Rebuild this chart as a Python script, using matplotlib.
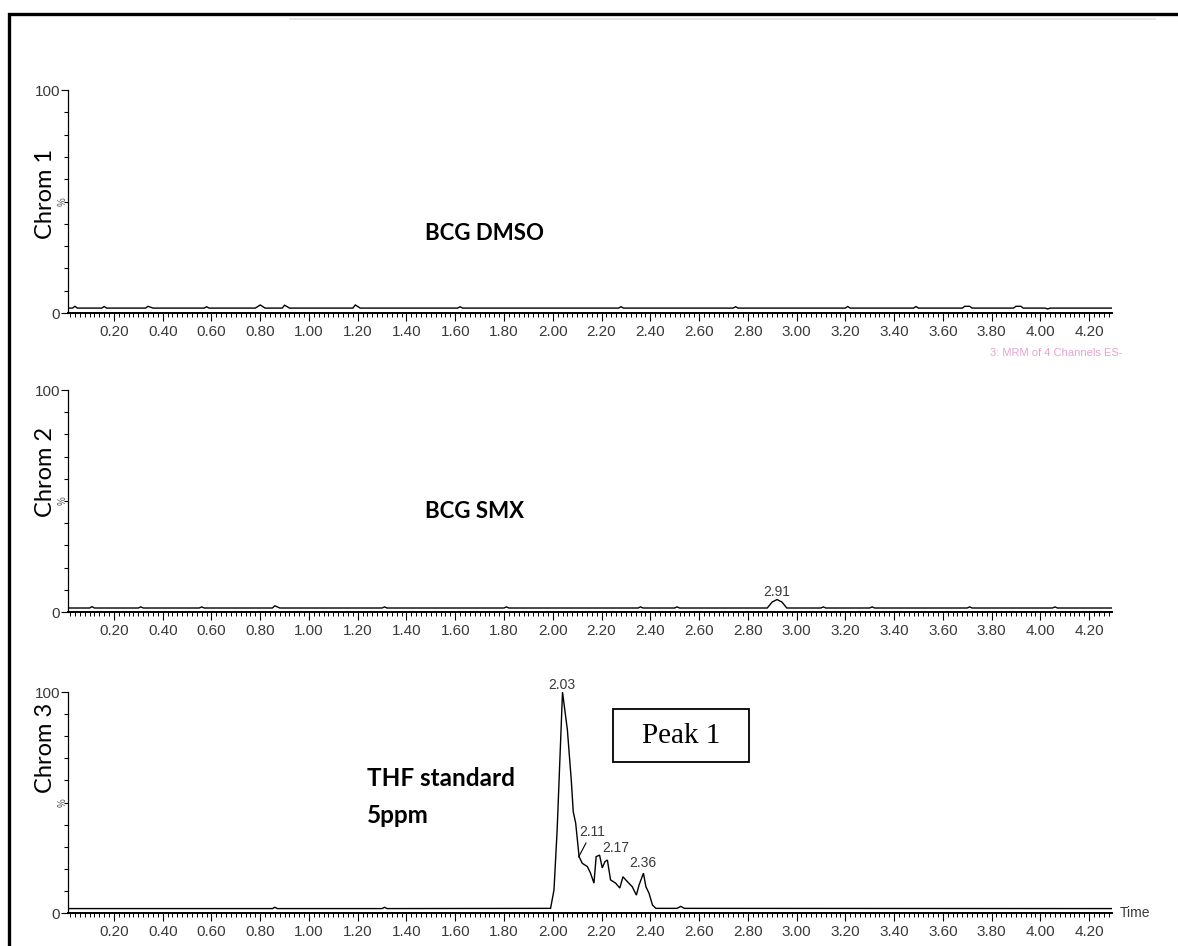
import matplotlib
matplotlib.use("Agg")
import matplotlib.pyplot as plt
from matplotlib.patches import Rectangle
from matplotlib.lines import Line2D
from matplotlib.ticker import MultipleLocator, FixedLocator

W, H = 1178, 946

# ---------------- data ----------------
panel_labels = ["Chrom 1", "Chrom 2", "Chrom 3"]
sample_names = ["BCG DMSO", "BCG SMX", "THF standard\n5ppm"]

x_major_ticks = [0.20, 0.40, 0.60, 0.80, 1.00, 1.20, 1.40, 1.60, 1.80, 2.00,
                 2.20, 2.40, 2.60, 2.80, 3.00, 3.20, 3.40, 3.60, 3.80, 4.00, 4.20]
y_tick_values = [0, 100]
y_tick_labels = ["0", "100"]

# Chrom 1: BCG DMSO (flat baseline with tiny bumps)
t1 = [0.01, 0.03, 0.04, 0.05, 0.15, 0.16, 0.17, 0.33, 0.34, 0.36, 0.57, 0.58, 0.59,
      0.78, 0.80, 0.82, 0.89, 0.90, 0.92, 1.18, 1.19, 1.21, 1.61, 1.62, 1.63,
      2.27, 2.28, 2.29, 2.74, 2.75, 2.76, 3.20, 3.21, 3.22, 3.48, 3.49, 3.50,
      3.68, 3.69, 3.71, 3.72, 3.89, 3.90, 3.92, 3.93, 4.02, 4.03, 4.04, 4.30]
i1 = [2.2, 2.2, 3.0, 2.2, 2.2, 2.9, 2.2, 2.2, 3.0, 2.2, 2.2, 2.8, 2.2,
      2.2, 3.6, 2.2, 2.2, 3.5, 2.2, 2.2, 3.6, 2.2, 2.2, 2.8, 2.2,
      2.2, 2.8, 2.2, 2.2, 2.8, 2.2, 2.2, 2.9, 2.2, 2.2, 2.9, 2.2,
      2.2, 3.0, 3.0, 2.2, 2.2, 3.0, 3.0, 2.2, 2.2, 1.8, 2.2, 2.2]

# Chrom 2: BCG SMX (baseline, small peak at 2.91)
t2 = [0.01, 0.10, 0.11, 0.12, 0.30, 0.31, 0.32, 0.55, 0.56, 0.57, 0.85, 0.86, 0.88,
      1.30, 1.31, 1.32, 1.80, 1.81, 1.82, 2.35, 2.36, 2.37, 2.50, 2.51, 2.52,
      2.88, 2.90, 2.92, 2.94, 2.96, 3.10, 3.11, 3.12, 3.30, 3.31, 3.32,
      3.70, 3.71, 3.72, 4.05, 4.06, 4.07, 4.30]
i2 = [1.8, 1.8, 2.4, 1.8, 1.8, 2.3, 1.8, 1.8, 2.3, 1.8, 1.8, 2.8, 1.8,
      1.8, 2.3, 1.8, 1.8, 2.3, 1.8, 1.8, 2.3, 1.8, 1.8, 2.3, 1.8,
      1.8, 4.5, 5.6, 4.5, 1.8, 1.8, 2.3, 1.8, 1.8, 2.3, 1.8,
      1.8, 2.3, 1.8, 1.8, 2.3, 1.8, 1.8]

# Chrom 3: THF standard 5 ppm
t3 = [0.01, 0.85, 0.86, 0.87, 1.30, 1.31, 1.32, 1.991, 2.005, 2.018, 2.040, 2.060,
      2.076, 2.084, 2.094, 2.108, 2.121, 2.142, 2.155, 2.169, 2.178, 2.192, 2.203,
      2.214, 2.224, 2.237, 2.258, 2.275, 2.288, 2.306, 2.326, 2.343, 2.354, 2.372,
      2.382, 2.395, 2.409, 2.423, 2.51, 2.525, 2.54, 4.30]
i3 = [2.0, 2.0, 2.6, 2.0, 2.0, 2.6, 2.0, 2.1, 10.4, 37.6, 100.0, 82.8,
      60.0, 45.8, 40.7, 25.5, 22.5, 21.0, 18.0, 13.5, 25.5, 26.2, 20.4,
      23.2, 24.0, 15.0, 13.5, 11.3, 16.4, 14.2, 11.9, 8.1, 12.7, 18.0,
      11.9, 8.9, 3.6, 2.1, 2.1, 3.0, 2.1, 2.0]

peak_labels_2 = [("2.91", 2.917, 9.0)]
peak_labels_3 = [("2.03", 2.037, 103.0), ("2.17", 2.257, 29.4), ("2.36", 2.370, 22.6)]

traces_t = [t1, t2, t3]
traces_i = [i1, i2, i3]

# ---------------- figure ----------------
fig = plt.figure(figsize=(W / 100, H / 100), dpi=100)
fig.patch.set_facecolor("white")

def fx(x):
    return x / W

def fy(y):
    return 1 - y / H

tick_family = ["Liberation Sans Narrow", "Liberation Sans", "DejaVu Sans"]
label_font = ["Lato", "Open Sans", "DejaVu Sans"]
grey = "#3a3a3a"

# axes geometry in pixels: (top, bottom)
left_px, right_px = 68, 1112
rows = [(90, 313), (390, 612), (692, 913)]
chrom_centers = [194, 472, 748]

axes = []
for k, (top, bot) in enumerate(rows):
    ax = fig.add_axes([fx(left_px), fy(bot), (right_px - left_px) / W, (bot - top) / H])
    axes.append(ax)
    ax.plot(traces_t[k], traces_i[k], color="black", lw=1.0, solid_joinstyle="miter")
    ax.set_xlim(0.0115, 4.294)
    ax.set_ylim(0, 100)
    for s in ["top", "right"]:
        ax.spines[s].set_visible(False)
    ax.spines["left"].set_linewidth(0.9)
    ax.spines["bottom"].set_linewidth(1.4)
    ax.set_facecolor("none")

    ax.xaxis.set_major_locator(FixedLocator(x_major_ticks))
    ax.xaxis.set_minor_locator(MultipleLocator(0.02))
    ax.set_xticklabels(["%.2f" % v for v in x_major_ticks])
    ax.yaxis.set_major_locator(FixedLocator(y_tick_values))
    ax.set_yticklabels(y_tick_labels)
    ax.yaxis.set_minor_locator(MultipleLocator(10))

    ax.tick_params(axis="x", which="major", direction="out", length=5.5, width=0.8,
                   pad=3, labelsize=11, labelcolor=grey)
    ax.tick_params(axis="x", which="minor", direction="out", length=3, width=0.7)
    ax.tick_params(axis="y", which="major", direction="out", length=5, width=0.8,
                   pad=0.5, labelsize=11, labelcolor=grey)
    ax.tick_params(axis="y", which="minor", direction="out", length=3, width=0.8)
    for lab in ax.get_xticklabels() + ax.get_yticklabels():
        lab.set_family(tick_family)

    ax.text(-0.0055, 0.5, "%", transform=ax.transAxes, rotation=90, ha="center",
            va="center", fontsize=7, color="#555555", family=tick_family)

    fig.text(fx(45), fy(chrom_centers[k]), panel_labels[k], rotation=90, ha="center",
             va="center", fontsize=17, family=label_font, color="black")

# peak labels
for lab, t, y in peak_labels_2:
    axes[1].text(t, y, lab, ha="center", va="center", fontsize=10, color=grey,
                 family=tick_family, clip_on=False)
for lab, t, y in peak_labels_3:
    axes[2].text(t, y, lab, ha="center", va="center", fontsize=10, color=grey,
                 family=tick_family, clip_on=False)
axes[2].annotate("2.11", xy=(2.106, 25.3), xytext=(2.16, 36.7), ha="center", va="center",
                 fontsize=10, color=grey, family=tick_family,
                 arrowprops=dict(arrowstyle="-", lw=0.8, color="black",
                                 shrinkA=1, shrinkB=0))

# sample names
fig.text(fx(425), fy(233), sample_names[0], ha="left", va="center", fontsize=16,
         fontweight="bold", family=label_font)
fig.text(fx(425), fy(512), sample_names[1], ha="left", va="center", fontsize=16,
         fontweight="bold", family=label_font)
fig.text(fx(367), fy(797), sample_names[2], ha="left", va="center", fontsize=17.5,
         fontweight="bold", family=label_font, linespacing=1.75)

# Peak 1 box
fig.text(fx(681), fy(736), "Peak 1", ha="center", va="center", fontsize=21,
         family=["Liberation Serif", "DejaVu Serif"])
fig.patches.append(Rectangle((fx(613), fy(762)), (749 - 613) / W, (762 - 709) / H,
                             transform=fig.transFigure, fill=False, lw=1.3,
                             edgecolor="black"))

# "Time" label
fig.text(fx(1120), fy(913), "Time", ha="left", va="center", fontsize=10, color=grey,
         family=tick_family)

# faint channel caption under first panel
fig.text(fx(990), fy(353), "3: MRM of 4 Channels ES-", ha="left", va="center",
         fontsize=8, color="#d27fc0", alpha=0.7, family=tick_family)

# faint top line (screen capture artefact)
fig.lines.append(Line2D([fx(290), fx(1155)], [fy(19), fy(19)], transform=fig.transFigure,
                        color="#e2e2e2", lw=1.2))

# outer border running off the right and bottom edges
fig.patches.append(Rectangle((fx(9), -0.1), 1.2, fy(14) + 0.1, transform=fig.transFigure,
                             fill=False, lw=2.4, edgecolor="black"))

fig.savefig("out.png", dpi=100, facecolor="white")
